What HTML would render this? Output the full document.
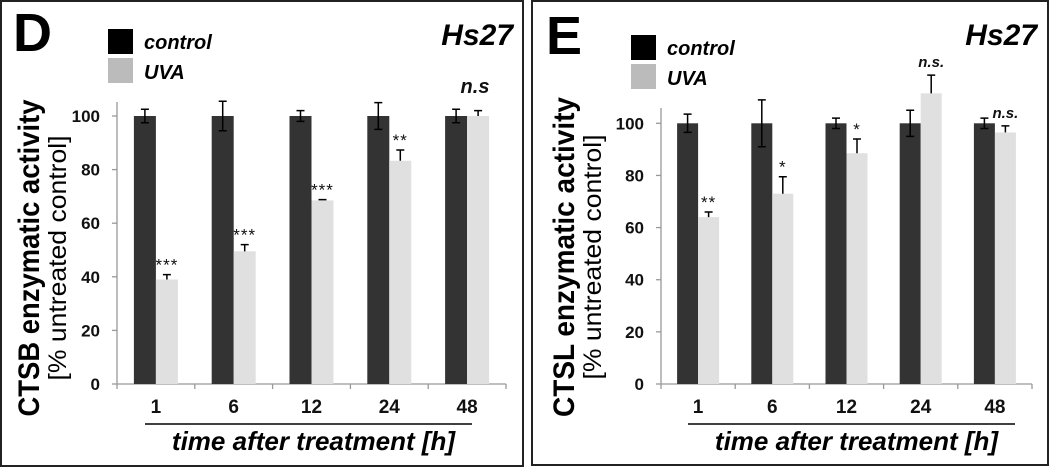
<!DOCTYPE html>
<html><head><meta charset="utf-8"><style>
html,body{margin:0;padding:0;background:#fff}
svg{display:block;font-family:"Liberation Sans",Arial,sans-serif}
</style></head><body>
<svg id="fig" width="1050" height="468" viewBox="0 0 1050 468"></svg>
<script>
const categories = ["1","6","12","24","48"];
const yTicks = [0,20,40,60,80,100];
const dControl = [100,100,100,100,100];
const dControlErr = [2.5,5.5,2,5,2.5];
const dUva = [39,49.5,68.5,83.3,100];
const dUvaErr = [1.8,2.5,0.3,4,2];
const dSig = ["***","***","***","**",""];
const eControl = [100,100,100,100,100];
const eControlErr = [3.5,9,2,5,2];
const eUva = [64,73,88.5,111.5,96.5];
const eUvaErr = [2,6.5,5.5,7,2.5];
const eSig = ["**","*","*","n.s.","n.s."];

const NS="http://www.w3.org/2000/svg";
const svg=document.getElementById('fig');
function mk(tag,attrs,parent,text){const e=document.createElementNS(NS,tag);for(const k in attrs)e.setAttribute(k,attrs[k]);if(text!==undefined)e.textContent=text;(parent||svg).appendChild(e);return e;}

function panel(cfg){
  const g=mk('g',{});
  
  
  const fr=mk('rect',{x:cfg.bx,y:cfg.by,width:cfg.bw,height:cfg.bh,fill:'none',stroke:'#222','stroke-width':2},g);
  
  const y=v=>cfg.y0-(v/100)*(cfg.y0-cfg.y100);
  const cw=(cfg.x1-cfg.x0)/categories.length;
  const bw=cfg.barW;
  const ya=mk('line',{x1:cfg.x0,x2:cfg.x0,y1:cfg.ytop,y2:cfg.y0,stroke:'#999','stroke-width':1.3},g);
  
  const xa=mk('line',{x1:cfg.x0,x2:cfg.x1,y1:cfg.y0,y2:cfg.y0,stroke:'#999','stroke-width':1.3},g);
  
  yTicks.forEach(t=>{
    mk('line',{x1:cfg.x0-5,x2:cfg.x0,y1:y(t),y2:y(t),stroke:'#999','stroke-width':1.3},g);
    const tl=mk('text',{x:cfg.x0-17,y:y(t)+6,'text-anchor':'end','font-size':17,'font-weight':'bold',fill:'#111'},g,String(t));
    
  });
  for(let i=0;i<=categories.length;i++){
    mk('line',{x1:cfg.x0+i*cw,x2:cfg.x0+i*cw,y1:cfg.y0,y2:cfg.y0+5,stroke:'#999','stroke-width':1.3},g);
  }
  categories.forEach((c,i)=>{
    const cx=cfg.x0+i*cw+cw/2;
    const xl=mk('text',{x:cx,y:cfg.y0+29,'text-anchor':'middle','font-size':19,'font-weight':'bold',fill:'#111'},g,c);
    
    const bc=mk('rect',{x:cx-bw,y:y(cfg.ctrl[i]),width:bw,height:cfg.y0-y(cfg.ctrl[i]),fill:'#333'},g);
    
    const bu=mk('rect',{x:cx,y:y(cfg.uva[i]),width:bw,height:cfg.y0-y(cfg.uva[i]),fill:'#e0e0e0'},g);
    
    const ex=cx-bw/2, e=cfg.ctrlErr[i];
    const eb=mk('path',{d:`M${ex} ${y(cfg.ctrl[i]+e)}V${y(cfg.ctrl[i]-e)}M${ex-4} ${y(cfg.ctrl[i]+e)}h8M${ex-4} ${y(cfg.ctrl[i]-e)}h8`,stroke:'#000','stroke-width':1.5,fill:'none'},g);
    
    const ux=cx+bw/2, ue=cfg.uvaErr[i];
    const ub=mk('path',{d:`M${ux} ${y(cfg.uva[i]+ue)}V${y(cfg.uva[i])}M${ux-4} ${y(cfg.uva[i]+ue)}h8`,stroke:'#000','stroke-width':1.5,fill:'none'},g);
    
    if(cfg.sig[i]){
      const ns=cfg.sig[i].startsWith('n');
      const st=mk('text',{x:ux,y:y(cfg.uva[i]+ue)-(ns?8:4),'text-anchor':'middle','font-size':ns?15:17,'font-weight':ns?'bold':'normal','font-style':ns?'italic':'normal',fill:'#111','letter-spacing':ns?0:1},g,cfg.sig[i]);
      
    }
  });
  if(cfg.extraNs){
    const t=mk('text',{x:cfg.extraNs[0],y:cfg.extraNs[1],'text-anchor':'middle','font-size':20,'font-weight':'bold','font-style':'italic',fill:'#111'},g,'n.s');
    
  }
  const L=mk('text',{x:cfg.letter[0],y:cfg.letter[1],'font-size':54,'font-weight':'bold',fill:'#000'},g,cfg.letterText);
  
  const hs=mk('text',{x:cfg.hs[0],y:cfg.hs[1],'text-anchor':'end','font-size':30,'font-weight':'bold','font-style':'italic',fill:'#000'},g,'Hs27');
  
  const lg=mk('g',{},g);
  const l1=mk('rect',{x:cfg.leg[0],y:cfg.leg[1],width:25,height:25,fill:'#000'},lg);
  
  const l2=mk('rect',{x:cfg.leg[0],y:cfg.leg[1]+29,width:25,height:25,fill:'#bbb'},lg);
  
  const t1=mk('text',{x:cfg.leg[0]+36,y:cfg.leg[1]+20,'font-size':20,'font-weight':'bold','font-style':'italic',fill:'#000'},lg,'control');
  
  const t2=mk('text',{x:cfg.leg[0]+36,y:cfg.leg[1]+50,'font-size':20,'font-weight':'bold','font-style':'italic',fill:'#000'},lg,'UVA');
  
  const yt=mk('text',{transform:`translate(${cfg.yt1} ${cfg.ytc}) rotate(-90)`,'text-anchor':'middle','font-size':30,'font-weight':'bold',fill:'#000',textLength:cfg.ytLen,lengthAdjust:'spacingAndGlyphs'},g,cfg.ytitle);
  
  const yt2=mk('text',{transform:`translate(${cfg.yt2} ${cfg.ytc}) rotate(-90)`,'text-anchor':'middle','font-size':25,fill:'#000',textLength:245,lengthAdjust:'spacingAndGlyphs'},g,'[% untreated control]');
  
  mk('line',{x1:cfg.ul[0],x2:cfg.ul[1],y1:424,y2:424,stroke:'#000','stroke-width':1.5},g);
  const xt=mk('text',{x:(cfg.ul[0]+cfg.ul[1])/2+5,y:450,'text-anchor':'middle','font-size':26,'font-weight':'bold','font-style':'italic',fill:'#000'},g,'time after treatment [h]');
  
}

panel({name:'panel-d-ctsb',bx:1,by:1,bw:522,bh:465,x0:117,x1:506,y0:384,y100:116,ytop:102,barW:22,
  ctrl:dControl,ctrlErr:dControlErr,uva:dUva,uvaErr:dUvaErr,sig:dSig,extraNs:[475,93],
  letter:[13,51],letterText:'D',hs:[513,45],leg:[108,29],yt1:39,yt2:66,ytc:258,ytLen:317,ytitle:'CTSB enzymatic activity',ul:[145,472]});
panel({name:'panel-e-ctsl',bx:532,by:1,bw:516,bh:464,x0:661,x1:1032,y0:384,y100:123.3,ytop:108,barW:21,
  ctrl:eControl,ctrlErr:eControlErr,uva:eUva,uvaErr:eUvaErr,sig:eSig,
  letter:[546,54],letterText:'E',hs:[1037,45],leg:[631,35],yt1:574,yt2:601,ytc:257,ytLen:320,ytitle:'CTSL enzymatic activity',ul:[688,1015]});
</script>
</body></html>
